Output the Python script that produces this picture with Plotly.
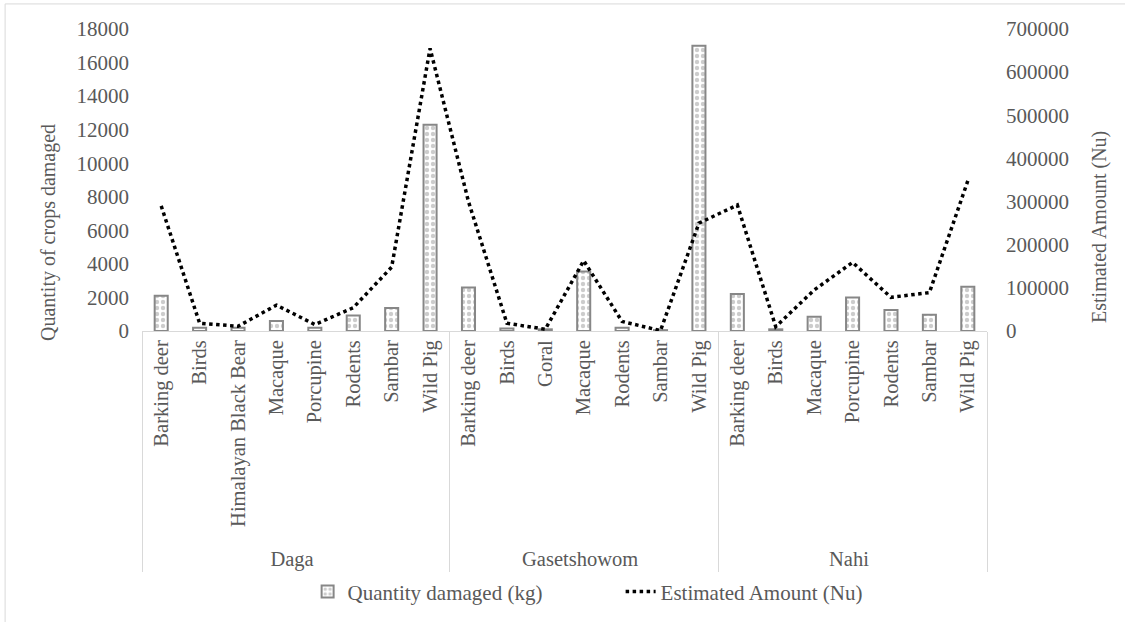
import plotly.graph_objects as go

# ---- data ----
regions = ["Daga"] * 8 + ["Gasetshowom"] * 7 + ["Nahi"] * 7
animals = [
    "Barking deer", "Birds", "Himalayan Black Bear", "Macaque", "Porcupine", "Rodents", "Sambar", "Wild Pig",
    "Barking deer", "Birds", "Goral", "Macaque", "Rodents", "Sambar", "Wild Pig",
    "Barking deer", "Birds", "Macaque", "Porcupine", "Rodents", "Sambar", "Wild Pig",
]
quantity_kg = [
    2100, 200, 200, 600, 200, 930, 1370, 12300,
    2600, 150, 100, 3550, 200, 50, 17000,
    2200, 100, 850, 2000, 1250, 970, 2640,
]
amount_nu = [
    290000, 18000, 11000, 60000, 15000, 54000, 148000, 655000,
    300000, 18000, 4000, 163000, 22000, 1000, 250000,
    292000, 10000, 95000, 159000, 78000, 89000, 348000,
]
left_ticks = [0, 2000, 4000, 6000, 8000, 10000, 12000, 14000, 16000, 18000]
right_ticks = [0, 100000, 200000, 300000, 400000, 500000, 600000, 700000]

FONT = "Liberation Serif, Times New Roman, serif"
TXT = "#595959"
FS = 21

# bar points listed by animal name so the axis learns the inner categories in
# alphabetical order (Goral before Himalayan Black Bear/Macaque ...)
bar_order = sorted(range(len(animals)), key=lambda i: (animals[i], regions[i]))

fig = go.Figure()
fig.add_trace(go.Bar(
    x=[[regions[i] for i in bar_order], [animals[i] for i in bar_order]],
    y=[quantity_kg[i] for i in bar_order],
    name="Quantity damaged (kg)",
    marker=dict(
        color="white",
        line=dict(color="#878787", width=2),
        pattern=dict(shape=".", fgcolor="#999999", bgcolor="white", size=6, solidity=0.42),
    ),
    yaxis="y",
))
fig.add_trace(go.Scatter(
    x=[regions, animals], y=amount_nu, name="Estimated Amount (Nu)",
    mode="lines", line=dict(color="black", width=3.5, dash="dot"),
    yaxis="y2",
))

fig.update_layout(
    width=1125, height=622,
    margin=dict(l=142, r=138, t=29, b=291, autoexpand=False),
    paper_bgcolor="white", plot_bgcolor="white",
    font=dict(family=FONT, size=FS, color=TXT),
    bargap=0.66,
    showlegend=True,
    legend=dict(orientation="h", x=0.196, xanchor="left", y=-0.864, yanchor="middle",
                entrywidth=268, entrywidthmode="pixels", itemwidth=30,
                font=dict(family=FONT, size=FS, color=TXT), bgcolor="rgba(0,0,0,0)"),
    xaxis=dict(
        type="multicategory", tickangle=-90,
        showline=True, linecolor="#d9d9d9", linewidth=1, automargin=False,
        showgrid=False, showdividers=True, dividercolor="#d9d9d9", dividerwidth=1,
        tickfont=dict(family=FONT, size=20.5, color=TXT), ticks="",
    ),
    yaxis=dict(
        range=[0, 18000], tickvals=left_ticks, tickformat="d", showgrid=False, zeroline=False,
        showline=False, ticklabelstandoff=12, automargin=False,
    ),
    yaxis2=dict(
        range=[0, 700000], tickvals=right_ticks, tickformat="d", overlaying="y", side="right",
        showgrid=False, zeroline=False, showline=False, ticklabelstandoff=18, automargin=False,
    ),
)

# axis titles (placed as in the reference, a little below the plot centre)
fig.add_annotation(text="Quantity of crops damaged", textangle=-90, showarrow=False,
                   xref="paper", yref="paper", x=-0.1112, y=0.3245, xanchor="center", yanchor="middle",
                   font=dict(family=FONT, size=20, color=TXT))
fig.add_annotation(text="Estimated Amount (Nu)", textangle=-90, showarrow=False,
                   xref="paper", yref="paper", x=1.1337, y=0.3444, xanchor="center", yanchor="middle",
                   font=dict(family=FONT, size=20, color=TXT))

# chart-area border
fig.add_shape(type="line", xref="paper", yref="paper", x0=-0.162, x1=1.2, y0=1.083, y1=1.083,
              line=dict(color="#d9d9d9", width=1))
fig.add_shape(type="line", xref="paper", yref="paper", x0=-0.162, x1=-0.162, y0=1.083, y1=-1.0,
              line=dict(color="#d9d9d9", width=1))

fig.write_html("out.html", config={"displayModeBar": False},
               post_script="document.body.style.margin='0';")
